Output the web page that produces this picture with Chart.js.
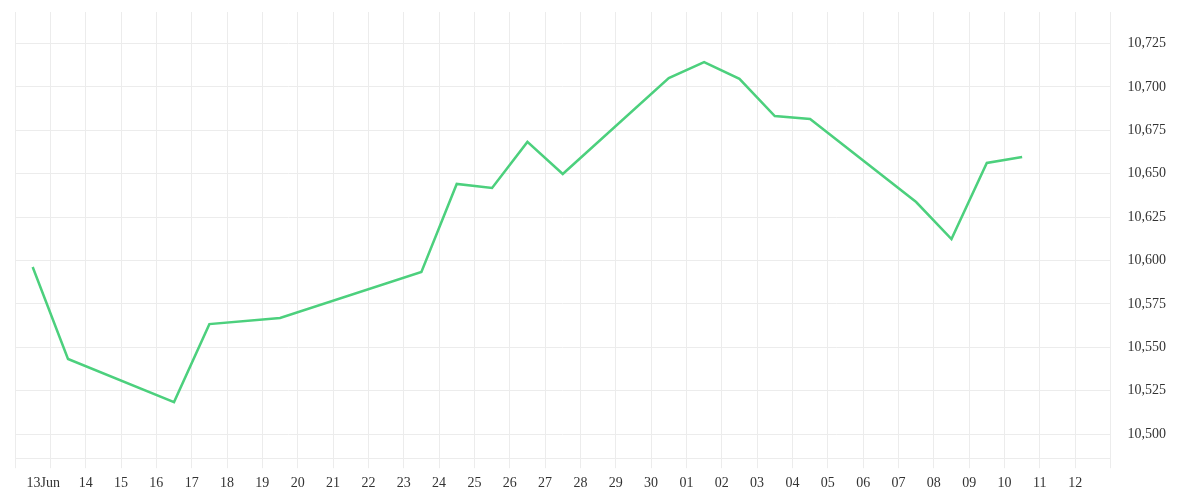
<!DOCTYPE html>
<html>
<head>
<meta charset="utf-8">
<script src="https://cdn.jsdelivr.net/npm/chart.js@4/dist/chart.umd.min.js"></script>
<style>
  html, body { margin: 0; padding: 0; background: #ffffff; }
  #wrap { width: 1200px; height: 500px; }
</style>
</head>
<body>
<div id="wrap"><canvas id="c" width="1200" height="500"></canvas></div>
<script>
// Day offsets from 12 June (0 = 12 Jun midnight); points sit at mid-day
const days = [0.5, 1.5, 4.5, 5.5, 7.5, 11.5, 12.5, 13.5, 14.5, 15.5, 18.5, 19.5, 20.5, 21.5, 22.5, 25.5, 26.5, 27.5, 28.5];
const closeValues = [10596.3, 10543.3, 10518.5, 10563.4, 10566.9, 10593.4, 10644.1, 10641.8, 10668.3, 10649.8,
                     10705.1, 10714.3, 10704.6, 10683.2, 10681.5, 10633.7, 10612.4, 10656.2, 10659.6];
// Tick labels for day offsets 0..31
const xTickLabels = ['', '13Jun', '14', '15', '16', '17', '18', '19', '20', '21', '22', '23', '24', '25', '26', '27',
                     '28', '29', '30', '01', '02', '03', '04', '05', '06', '07', '08', '09', '10', '11', '12', ''];
const yMin = 10486.2;
const yMax = 10743.1;
const yStep = 25;

const gridColor = '#ececec';
const textColor = '#333333';
const fontSpec = { family: "'Liberation Serif', 'DejaVu Serif', serif", size: 14 };

const points = days.map((d, i) => ({ x: d, y: closeValues[i] }));

new Chart(document.getElementById('c'), {
  type: 'line',
  data: {
    datasets: [{
      data: points,
      borderColor: '#4cd07d',
      backgroundColor: '#4cd07d',
      borderWidth: 2.5,
      pointRadius: 0,
      tension: 0,
      fill: false
    }]
  },
  options: {
    responsive: false,
    animation: false,
    devicePixelRatio: 1,
    layout: { padding: { left: 15, top: 12, right: 31, bottom: 1 } },
    plugins: { legend: { display: false }, tooltip: { enabled: false } },
    scales: {
      x: {
        type: 'linear',
        min: 0,
        max: xTickLabels.length - 1,
        grid: { color: gridColor, tickLength: 10, drawTicks: true },
        border: { color: gridColor },
        ticks: {
          stepSize: 1,
          autoSkip: false,
          maxRotation: 0,
          padding: 7,
          color: textColor,
          font: fontSpec,
          callback: (v) => {
            const lab = xTickLabels[Math.round(v)];
            return lab === '13Jun' ? lab + '\u2002\u2002' : (lab || '');
          }
        }
      },
      y: {
        position: 'right',
        min: yMin,
        max: yMax,
        afterBuildTicks: (axis) => { axis.ticks = axis.ticks.filter(t => Math.abs(t.value / yStep - Math.round(t.value / yStep)) < 1e-6); },
        grid: { color: gridColor, drawTicks: true, tickLength: 14, tickColor: 'rgba(0,0,0,0)' },
        border: { color: gridColor },
        ticks: {
          stepSize: yStep,
          padding: 3,
          color: textColor,
          font: fontSpec,
          callback: (v) => v.toLocaleString('en-US')
        }
      }
    }
  }
});
</script>
</body>
</html>
